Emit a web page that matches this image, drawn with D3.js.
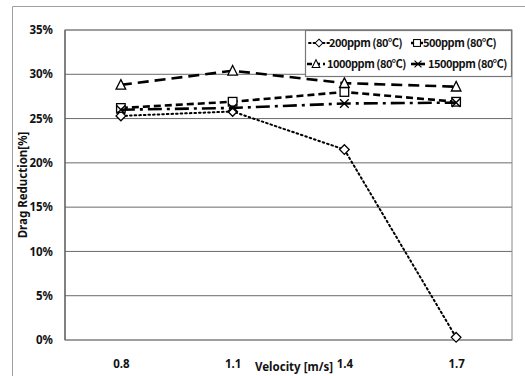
<!DOCTYPE html>
<html>
<head>
<meta charset="utf-8">
<script src="https://cdn.jsdelivr.net/npm/d3@7"></script>
<style>
  html, body { margin: 0; padding: 0; background: #fff; }
  svg { display: block; }
  text { font-family: "Liberation Sans", Arial, sans-serif; font-weight: bold; fill: #111; }
</style>
</head>
<body>
<svg id="chart" width="525" height="376"></svg>
<script>
// Flow velocity categories and drag reduction (%) for each polymer concentration at 80 °C
const velocities = ["0.8", "1.1", "1.4", "1.7"];
const ppm200  = [25.3, 25.8, 21.5, 0.3];
const ppm500  = [26.2, 26.9, 28.0, 26.9];
const ppm1000 = [28.8, 30.4, 29.0, 28.6];
const ppm1500 = [26.0, 26.2, 26.7, 26.8];
const yTicks = [0, 5, 10, 15, 20, 25, 30, 35];
const seriesNames = ["200ppm (80\u2103)", "500ppm (80\u2103)", "1000ppm (80\u2103)", "1500ppm (80\u2103)"];

const series = [
  { name: seriesNames[0], values: ppm200,  marker: "diamond",  dash: "1.6,3",     width: 2 },
  { name: seriesNames[1], values: ppm500,  marker: "square",   dash: "7,4",       width: 2.6 },
  { name: seriesNames[2], values: ppm1000, marker: "triangle", dash: "11,6",      width: 2.6 },
  { name: seriesNames[3], values: ppm1500, marker: "cross",    dash: "14,5,3,5",  width: 2.6 }
];

const svg = d3.select("#chart");
const plot = { left: 65, right: 512, top: 30, bottom: 340 };

// outer chart frame (only top and left edges fall inside the view)
svg.append("path")
  .attr("d", "M12.5,376 V6.5 H525")
  .attr("fill", "none").attr("stroke", "#a0a0a0").attr("stroke-width", 1);

const x = d3.scalePoint().domain(velocities).range([plot.left, plot.right]).padding(0.5);
const y = d3.scaleLinear().domain([0, 35]).range([plot.bottom, plot.top]);

// gridlines
svg.append("g").selectAll("line").data(yTicks).join("line")
  .attr("x1", plot.left).attr("x2", plot.right)
  .attr("y1", d => y(d)).attr("y2", d => y(d))
  .attr("stroke", "#6a6a6a").attr("stroke-width", 1);

// plot area border
svg.append("rect")
  .attr("x", plot.left).attr("y", plot.top)
  .attr("width", plot.right - plot.left).attr("height", plot.bottom - plot.top)
  .attr("fill", "none").attr("stroke", "#888").attr("stroke-width", 1);
svg.append("line")
  .attr("x1", plot.left).attr("x2", plot.left)
  .attr("y1", plot.top).attr("y2", plot.bottom)
  .attr("stroke", "#555").attr("stroke-width", 1.2);

// y axis tick labels
const yAxis = d3.axisLeft(y).tickValues(yTicks).tickSize(0).tickPadding(12)
  .tickFormat(d => d + "%");
const gy = svg.append("g").attr("transform", `translate(${plot.left},0)`).call(yAxis);
gy.select(".domain").remove();
gy.selectAll("text").style("font-size", "11.5px").style("font-family", "\"Noto Sans\", sans-serif").attr("font-weight", "bold");

// x axis tick labels (placed below the plot)
const xAxis = d3.axisBottom(x).tickSize(0).tickPadding(20);
const gx = svg.append("g").attr("transform", `translate(0,${plot.bottom})`).call(xAxis);
gx.select(".domain").remove();
gx.selectAll("text").style("font-size", "11.5px").style("font-family", "\"Noto Sans\", sans-serif").attr("font-weight", "bold");

// axis titles
svg.append("text")
  .attr("x", 294).attr("y", 371)
  .attr("text-anchor", "middle")
  .style("font-size", "11.5px").style("font-family", "\"Noto Sans\", sans-serif")
  .text("Velocity [m/s]");
svg.append("text")
  .attr("transform", "translate(27,185) rotate(-90)")
  .attr("text-anchor", "middle")
  .style("font-size", "11.5px").style("font-family", "\"Noto Sans\", sans-serif")
  .text("Drag Reduction[%]");

// marker shapes
function drawMarker(g, type, cx, cy) {
  const s = 4.3;
  if (type === "diamond") {
    g.append("path").attr("d", `M${cx},${cy - s - 0.5} L${cx + s + 0.5},${cy} L${cx},${cy + s + 0.5} L${cx - s - 0.5},${cy} Z`)
      .attr("fill", "#fff").attr("stroke", "#000").attr("stroke-width", 1.3);
  } else if (type === "square") {
    g.append("rect").attr("x", cx - s).attr("y", cy - s).attr("width", 2 * s).attr("height", 2 * s)
      .attr("fill", "#fff").attr("stroke", "#000").attr("stroke-width", 1.3);
  } else if (type === "triangle") {
    g.append("path").attr("d", `M${cx},${cy - s - 1} L${cx + s + 0.5},${cy + s} L${cx - s - 0.5},${cy + s} Z`)
      .attr("fill", "#fff").attr("stroke", "#000").attr("stroke-width", 1.3);
  } else if (type === "cross") {
    g.append("path").attr("d", `M${cx - s},${cy - s} L${cx + s},${cy + s} M${cx + s},${cy - s} L${cx - s},${cy + s}`)
      .attr("fill", "none").attr("stroke", "#000").attr("stroke-width", 1.4);
  }
}

const line = d3.line().x((d, i) => x(velocities[i])).y(d => y(d));

series.forEach(s => {
  const g = svg.append("g");
  g.append("path").datum(s.values).attr("d", line)
    .attr("fill", "none").attr("stroke", "#000")
    .attr("stroke-width", s.width).attr("stroke-dasharray", s.dash)
    .attr("stroke-linecap", s.marker === "diamond" ? "round" : "butt");
  s.values.forEach((v, i) => drawMarker(g, s.marker, x(velocities[i]), y(v)));
});

// legend
const legend = svg.append("g");
legend.append("rect").attr("x", 305.5).attr("y", 30.5).attr("width", 206).attr("height", 46)
  .attr("fill", "#fff").attr("stroke", "#777").attr("stroke-width", 1.2);
const legendPos = [
  { lx: 309, ly: 43, w: 20, tx: 329 },
  { lx: 411, ly: 43, w: 12, tx: 423 },
  { lx: 307, ly: 64, w: 18, tx: 327 },
  { lx: 411, ly: 64, w: 14, tx: 428 }
];
const legendDash = ["1.6,3", "5,2", "5,3", null];
series.forEach((s, i) => {
  const p = legendPos[i];
  const g = legend.append("g");
  g.append("line").attr("x1", p.lx).attr("x2", p.lx + p.w).attr("y1", p.ly).attr("y2", p.ly)
    .attr("stroke", "#000").attr("stroke-width", s.width)
    .attr("stroke-dasharray", legendDash[i])
    .attr("stroke-linecap", i === 0 ? "round" : "butt");
  const gm = g.append("g").attr("transform", `translate(${p.lx + p.w / 2},${p.ly}) scale(0.8)`);
  drawMarker(gm, s.marker, 0, 0);
  g.append("text").attr("x", p.tx).attr("y", p.ly + 4)
    .style("font-size", "11px").style("letter-spacing", "-0.5px")
    .style("font-family", "\"Noto Sans CJK KR\", \"Liberation Sans\", sans-serif")
    .text(s.name);
});
</script>
</body>
</html>
